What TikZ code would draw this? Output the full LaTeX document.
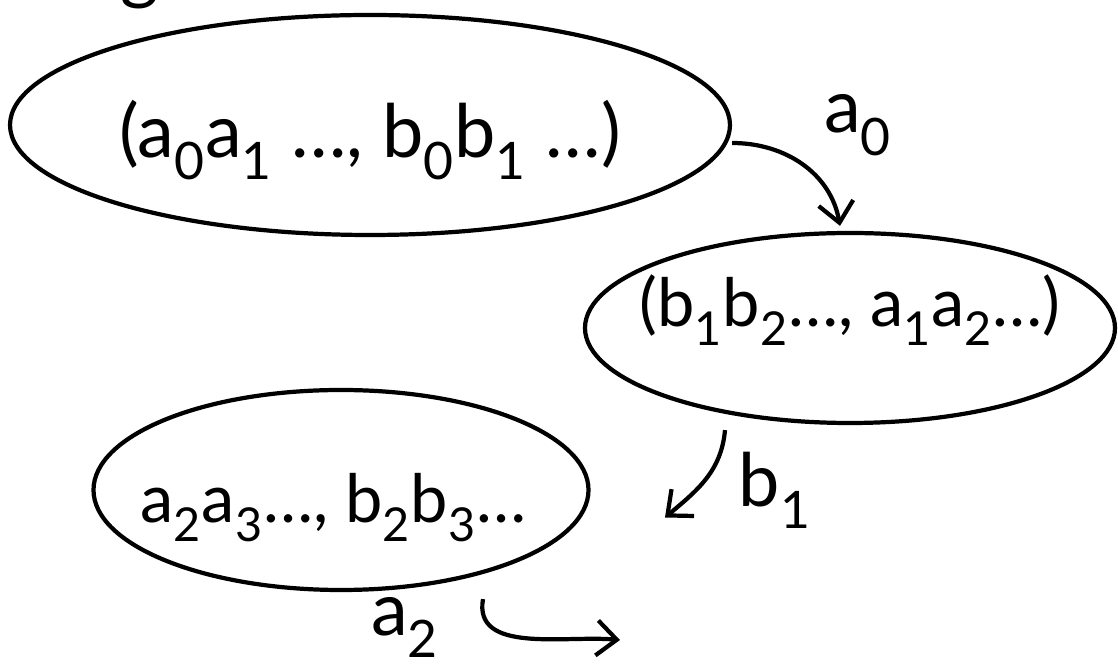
\documentclass[tikz,border=0pt]{standalone}
\usepackage{fontspec}
\setmainfont{Lato}
\usetikzlibrary{shapes.geometric,arrows.meta}
\newcommand{\ix}[1]{\textsubscript{#1}}

\begin{document}
\begin{tikzpicture}
    \tikzstyle{state}=[ellipse, draw=black, line width=2.4pt, inner sep=0mm]
    \tikzstyle{connect}=[-{Straight Barb[length=4mm,width=7mm]}, line width=2.4pt]
    \tikzstyle{lbl}=[font=\fontsize{42}{46}\selectfont]
    \tikzstyle{inlbl}=[font=\fontsize{38}{42}\selectfont]
    \useasboundingbox (0,0) rectangle (22.36,-13.32);
    \clip (0,0) rectangle (22.36,-13.32);
      \node[lbl, anchor=base] (eg) at (2.4,0.08) {e.g.};
      \node[state, minimum width=14.4cm, minimum height=4.4cm,
            label={[lbl, yshift=-0.3cm]center:(a\ix0a\ix1 \dots, b\ix0b\ix1 \dots)}] (s0) at (7.4,-2.5) {};
      \node[state, minimum width=10.6cm, minimum height=3.8cm,
            label={[inlbl, yshift=0.35cm]center:(b\ix1b\ix2\dots, a\ix1a\ix2\dots)}] (s1) at (17.0,-6.56) {};
      \node[state, minimum width=9.9cm, minimum height=4cm,
            label={[inlbl, xshift=-0.15cm, yshift=-0.35cm]center:a\ix2a\ix3\dots, b\ix2b\ix3\dots}] (s2) at (6.82,-9.8) {};
      \coordinate (c1) at (13.3,-10.35);
      \coordinate (c2) at (12.4,-12.8);
      \node[lbl] (l0) at (17.16,-2.5) {a\ix0};
      \node[lbl] (l1) at (15.5,-9.8) {b\ix1};
      \node[lbl] (l2) at (8.1,-12.55) {a\ix2};
      \path ([yshift=-0.36cm]s0.east) edge [connect, out=0, in=100] ([xshift=-0.2cm,yshift=0.1cm]s1.north);
      \path ([xshift=-2.5cm,yshift=-0.1cm]s1.south) edge [connect, out=-95, in=40] (c1);
      \path ([xshift=2.84cm,yshift=-0.14cm]s2.south) edge [connect, out=-100, in=175] (c2);
\end{tikzpicture}
\end{document}
